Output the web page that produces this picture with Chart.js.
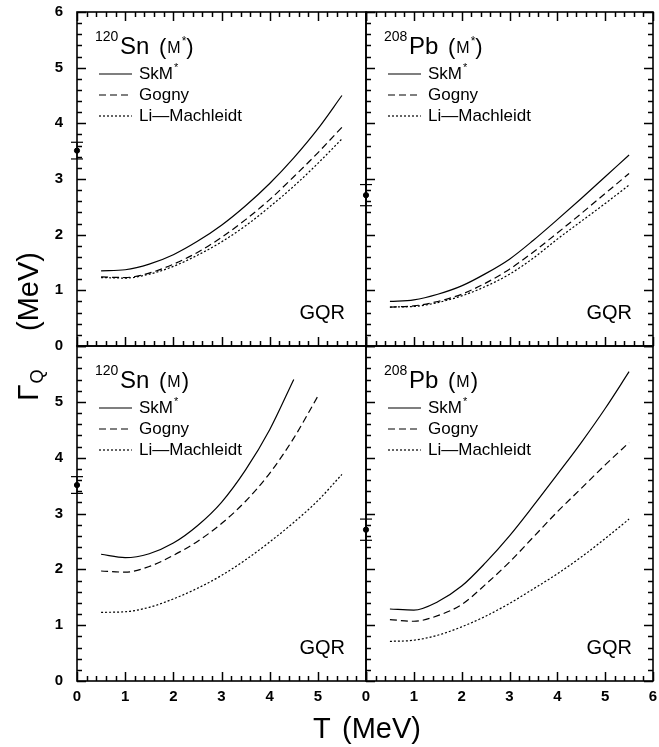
<!DOCTYPE html>
<html>
<head>
<meta charset="utf-8">
<script src="https://cdn.jsdelivr.net/npm/chart.js@4.4.1/dist/chart.umd.min.js"></script>
<style>
  body { margin: 0; background: #fff; }
  #fig { position: relative; width: 659px; height: 747px; }
  #fig canvas { position: absolute; left: 0; top: 0; }
</style>
</head>
<body>
<div id="fig">
  <canvas id="tl" width="659" height="747"></canvas>
  <canvas id="tr" width="659" height="747"></canvas>
  <canvas id="bl" width="659" height="747"></canvas>
  <canvas id="br" width="659" height="747"></canvas>
</div>
<script>
// temperature grid (MeV) the curves are read at
const temps = [0.5, 1, 1.5, 2, 2.5, 3, 3.5, 4, 4.5, 5, 5.5];
const models = ['SkM*', 'Gogny', 'Li\u2014Machleidt'];

// GQR width Gamma_Q (MeV), 120Sn with effective mass M*
const snStarSkm   = [1.35, 1.37, 1.47, 1.64, 1.88, 2.17, 2.52, 2.92, 3.38, 3.90, 4.50];
const snStarGogny = [1.24, 1.23, 1.31, 1.47, 1.68, 1.95, 2.27, 2.63, 3.04, 3.47, 3.93];
const snStarLM    = [1.23, 1.22, 1.29, 1.43, 1.63, 1.87, 2.16, 2.50, 2.87, 3.28, 3.72];

// 208Pb with M*
const pbStarSkm   = [0.80, 0.83, 0.93, 1.08, 1.30, 1.56, 1.90, 2.27, 2.65, 3.04, 3.43];
const pbStarGogny = [0.70, 0.72, 0.80, 0.93, 1.13, 1.38, 1.69, 2.03, 2.38, 2.74, 3.10];
const pbStarLM    = [0.70, 0.71, 0.78, 0.90, 1.07, 1.29, 1.58, 1.92, 2.24, 2.56, 2.89];

// 120Sn with bare mass M (SkM* stops at 4.5, Gogny at 5)
const snSkm   = [2.27, 2.21, 2.28, 2.47, 2.78, 3.20, 3.78, 4.50, 5.40];
const snGogny = [1.97, 1.95, 2.05, 2.25, 2.50, 2.82, 3.22, 3.72, 4.35, 5.10];
const snLM    = [1.23, 1.24, 1.32, 1.47, 1.66, 1.89, 2.17, 2.49, 2.84, 3.23, 3.70];

// 208Pb with M
const pbSkm   = [1.29, 1.27, 1.42, 1.70, 2.12, 2.60, 3.14, 3.70, 4.27, 4.88, 5.54];
const pbGogny = [1.10, 1.07, 1.17, 1.37, 1.73, 2.13, 2.58, 3.03, 3.45, 3.87, 4.27];
const pbLM    = [0.71, 0.73, 0.82, 0.97, 1.16, 1.39, 1.65, 1.92, 2.22, 2.55, 2.90];

// measured width at T = 0 : Sn, Pb
const expWidth = [3.51, 2.71];
const expErr   = [0.15, 0.19];

const xLabelsLeft  = [0, 1, 2, 3, 4, 5];
const xLabelsRight = [0, 1, 2, 3, 4, 5, 6];
const yLabelsTop    = [0, 1, 2, 3, 4, 5, 6];
const yLabelsBottom = [0, 1, 2, 3, 4, 5];

const FONT = '"Liberation Sans", Arial, sans-serif';
const dashes = [[], [7, 4], [2, 2]];

function curves(series) {
  return series.map((vals, i) => ({
    label: models[i],
    data: vals.map((v, k) => ({ x: temps[k], y: v })),
    borderColor: '#000',
    borderWidth: 1.2,
    borderDash: dashes[i],
    pointRadius: 0,
    cubicInterpolationMode: 'monotone',
    fill: false
  }));
}

function expPoint(k) {
  return {
    label: 'exp',
    data: [{ x: 0, y: expWidth[k], lo: expWidth[k] - expErr[k], hi: expWidth[k] + expErr[k] }],
    showLine: false,
    pointRadius: 2.6,
    pointBackgroundColor: '#000',
    pointBorderColor: '#000',
    clip: false
  };
}

function isInt(v) { return Math.abs(v - Math.round(v)) < 1e-6; }

function seg(ctx, x1, y1, x2, y2) {
  ctx.beginPath(); ctx.moveTo(x1, y1); ctx.lineTo(x2, y2); ctx.stroke();
}

// frame, inward ticks, error bars and in-panel text
const framePlugin = {
  id: 'frame',
  afterDraw(chart, args, opts) {
    const { ctx, chartArea: a, scales: { x, y } } = chart;
    const sides = String(opts.sides || '');
    ctx.save();
    ctx.setLineDash([]);
    ctx.fillStyle = '#000';
    ctx.strokeStyle = '#000';

    ctx.lineWidth = 1.6;
    ctx.strokeRect(a.left, a.top, a.right - a.left, a.bottom - a.top);

    ctx.lineWidth = 1.5;
    x.getTicks().forEach(t => {
      const px = Math.round(x.getPixelForValue(t.value)) + 0.5;
      const len = isInt(t.value) ? 9 : 5;
      if (sides.indexOf('b') >= 0) seg(ctx, px, a.bottom, px, a.bottom - len);
      if (sides.indexOf('t') >= 0) seg(ctx, px, a.top, px, a.top + len);
    });
    y.getTicks().forEach(t => {
      const py = Math.round(y.getPixelForValue(t.value)) + 0.5;
      const len = isInt(t.value) ? 9 : 5;
      if (sides.indexOf('l') >= 0) seg(ctx, a.left, py, a.left + len, py);
      if (sides.indexOf('r') >= 0) seg(ctx, a.right, py, a.right - len, py);
    });

    // error bars of the T = 0 point
    ctx.lineWidth = 1.2;
    chart.data.datasets.forEach(ds => {
      ds.data.forEach(p => {
        if (p.lo === undefined) return;
        const px = x.getPixelForValue(p.x);
        const y1 = y.getPixelForValue(p.lo), y2 = y.getPixelForValue(p.hi);
        seg(ctx, px, y1, px, y2);
        seg(ctx, px - 6, y1, px + 6, y1);
        seg(ctx, px - 6, y2, px + 6, y2);
      });
    });

    // nucleus label
    ctx.textAlign = 'left';
    ctx.textBaseline = 'alphabetic';
    const base = a.top + 42;
    ctx.font = '14px ' + FONT;
    ctx.fillText(opts.mass, a.left + 18, base - 13);
    ctx.font = '24px ' + FONT;
    ctx.fillText(opts.sym, a.left + 43, base);
    let cx = a.left + 82;
    ctx.font = '22px ' + FONT;
    ctx.fillText('(', cx, base);
    cx += ctx.measureText('(').width + 1;
    ctx.font = '16px ' + FONT;
    ctx.fillText('M', cx, base - 1);
    cx += ctx.measureText('M').width + 1;
    if (opts.star) {
      ctx.font = '12px ' + FONT;
      ctx.fillText('*', cx, base - 9);
      cx += ctx.measureText('*').width;
    }
    ctx.font = '22px ' + FONT;
    ctx.fillText(')', cx, base);

    // legend
    ctx.textBaseline = 'middle';
    models.forEach((name, i) => {
      const ly = a.top + 62 + i * 21;
      ctx.lineWidth = 1.2;
      ctx.setLineDash(dashes[i]);
      seg(ctx, a.left + 22, ly, a.left + 55, ly);
      ctx.setLineDash([]);
      const star = name.endsWith('*');
      const txt = star ? name.slice(0, -1) : name;
      ctx.font = '17px ' + FONT;
      ctx.fillText(txt, a.left + 62, ly);
      if (star) {
        const w = ctx.measureText(txt).width;
        ctx.font = '11px ' + FONT;
        ctx.fillText('*', a.left + 62 + w + 1, ly - 6);
      }
    });

    // resonance tag
    ctx.font = '20px ' + FONT;
    ctx.textAlign = 'right';
    ctx.textBaseline = 'alphabetic';
    ctx.fillText('GQR', a.right - 21, a.bottom - 27);

    // shared axis titles
    if (opts.axisTitles) {
      ctx.textAlign = 'left';
      ctx.font = '29px ' + FONT;
      ctx.fillText('T', 313, 738);
      ctx.fillText('(MeV)', 342, 738);

      ctx.translate(38, 401);
      ctx.rotate(-Math.PI / 2);
      ctx.font = '30px ' + FONT;
      ctx.fillText('\u0393', 0, 0);
      const gw = ctx.measureText('\u0393').width;
      ctx.font = '18px ' + FONT;
      ctx.fillText('Q', gw + 1, 5);
      ctx.font = '29px ' + FONT;
      ctx.fillText('(MeV)', 70, 0);
    }
    ctx.restore();
  }
};

function noPad(s) { s.paddingTop = 0; s.paddingBottom = 0; s.paddingLeft = 0; s.paddingRight = 0; }

const W = 659, H = 747;
const panels = [
  { id: 'tl', mass: '120', sym: 'Sn', star: true, series: [snStarSkm, snStarGogny, snStarLM], exp: 0,
    box: [77, 12, 366, 346], sides: 'tlb', xLabels: null, yLabels: yLabelsTop },
  { id: 'tr', mass: '208', sym: 'Pb', star: true, series: [pbStarSkm, pbStarGogny, pbStarLM], exp: 1,
    box: [366, 12, 653, 346], sides: 'tlrb', xLabels: null, yLabels: null },
  { id: 'bl', mass: '120', sym: 'Sn', star: false, series: [snSkm, snGogny, snLM], exp: 0,
    box: [77, 346, 366, 681], sides: 'lb', xLabels: xLabelsLeft, yLabels: yLabelsBottom, axisTitles: true },
  { id: 'br', mass: '208', sym: 'Pb', star: false, series: [pbSkm, pbGogny, pbLM], exp: 1,
    box: [366, 346, 653, 681], sides: 'lrb', xLabels: xLabelsRight, yLabels: null }
];

panels.forEach(p => {
  const yw = p.yLabels ? p.box[0] : 10;
  const xh = 30;
  const ctx = document.getElementById(p.id).getContext('2d');
  new Chart(ctx, {
    type: 'line',
    data: { datasets: curves(p.series).concat([expPoint(p.exp)]) },
    plugins: [framePlugin],
    options: {
      responsive: false,
      animation: false,
      devicePixelRatio: 1,
      layout: { padding: { left: p.box[0] - yw, top: p.box[1], right: W - p.box[2], bottom: H - p.box[3] - xh } },
      plugins: {
        legend: { display: false },
        tooltip: { enabled: false },
        frame: { sides: p.sides, mass: p.mass, sym: p.sym, star: p.star, axisTitles: !!p.axisTitles }
      },
      scales: {
        x: {
          type: 'linear', min: 0, max: 6,
          grid: { display: false, drawTicks: false },
          border: { display: false },
          ticks: {
            display: !!p.xLabels, stepSize: 0.2, autoSkip: false, maxRotation: 0, padding: 7,
            color: '#000', font: { family: FONT, size: 15, weight: 'bold' },
            callback: v => (p.xLabels && isInt(v) && p.xLabels.includes(Math.round(v))) ? String(Math.round(v)) : ''
          },
          afterFit: s => { s.height = xh; noPad(s); }
        },
        y: {
          type: 'linear', min: 0, max: 6,
          grid: { display: false, drawTicks: false },
          border: { display: false },
          ticks: {
            display: !!p.yLabels, stepSize: 0.2, autoSkip: false, padding: 14,
            color: '#000', font: { family: FONT, size: 15, weight: 'bold' },
            callback: v => (p.yLabels && isInt(v) && p.yLabels.includes(Math.round(v))) ? String(Math.round(v)) : ''
          },
          afterFit: s => { s.width = yw; noPad(s); }
        }
      }
    }
  });
});
</script>
</body>
</html>
